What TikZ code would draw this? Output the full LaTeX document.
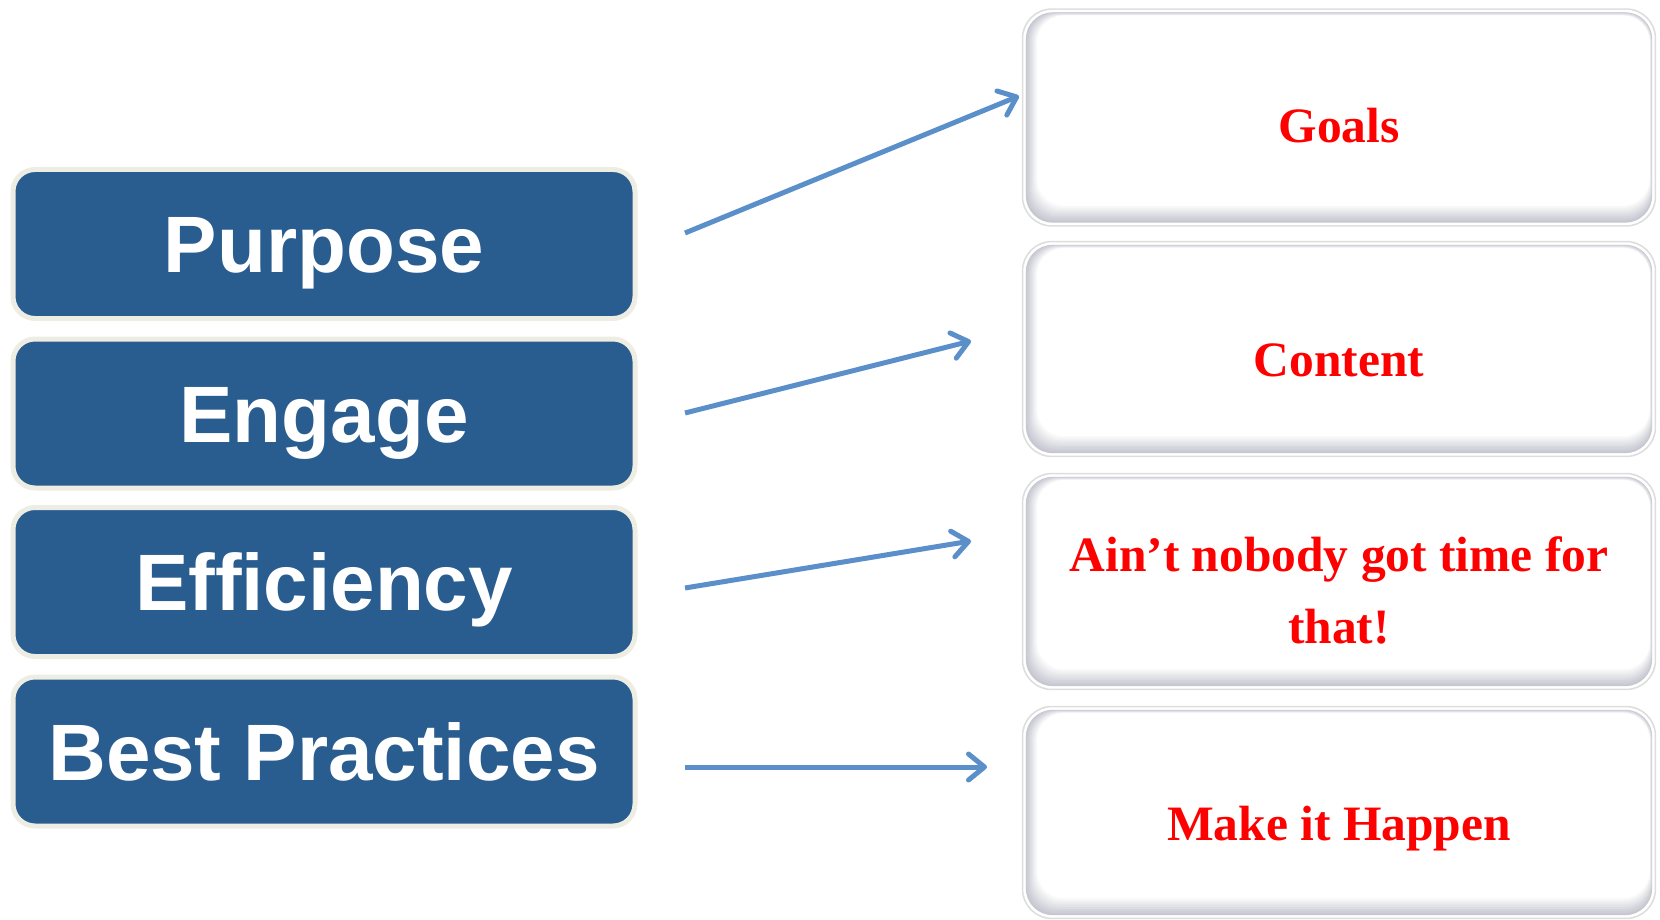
\documentclass[tikz,border=0pt]{standalone}
\usepackage{fontspec}
\setmainfont{Liberation Serif}
\newfontfamily\arialfont{Liberation Sans}
\usetikzlibrary{arrows.meta,calc}
\definecolor{boxblue}{HTML}{2A5D8F}
\definecolor{boxrim}{HTML}{EEEDE3}
\definecolor{arrowblue}{HTML}{5B8FCA}
\definecolor{rshade}{HTML}{C6C7D0}
\definecolor{rrim}{HTML}{DDDDDD}
\definecolor{txtred}{HTML}{FF0000}
\newcommand\rightbg[1]{%
  \fill[rrim, rounded corners=30pt] (#1.north west) rectangle (#1.south east);
  \fill[white, rounded corners=29pt] ([shift={(1.5,1.5)}]#1.north west) rectangle ([shift={(-1.5,-1.5)}]#1.south east);
  \foreach \k in {0,...,8}{%
    \pgfmathsetmacro\pct{100-\k*100/8}
    \pgfmathsetmacro\il{4+1.4*\k}
    \pgfmathsetmacro\ib{4+2.1*\k}
    \pgfmathsetmacro\it{4+0.4*\k}
    \pgfmathsetmacro\ir{4+0.3*\k}
    \fill[rshade!\pct!white, rounded corners=27pt] ([shift={(\il,\it)}]#1.north west) rectangle ([shift={(-\ir,-\ib)}]#1.south east);
  }%
}
\begin{document}
\begin{tikzpicture}[x=1pt,y=-1pt,
  lbox/.style={draw=boxrim, line width=5pt, fill=boxblue, rounded corners=22pt,
    minimum width=622pt, minimum height=149pt, inner sep=0pt, text=white,
    text height=57pt, text depth=0pt,
    font=\arialfont\bfseries\fontsize{80}{96}\selectfont},
  rbox/.style={minimum width=634pt, inner sep=0pt},
  rtext/.style={text=txtred, font=\bfseries\fontsize{49.5}{72}\selectfont, align=center},
  conn/.style={draw=arrowblue, line width=5pt,
    -{Straight Barb[length=16pt,width=26pt,line cap=round,round]}}]
\useasboundingbox (0,0) rectangle (1660,920);

% left boxes
\node[lbox] (p) at (324,244) {Purpose};
\node[lbox] (e) at (324,413.5) {Engage};
\node[lbox] (f) at (324,582) {Efficiency};
\node[lbox] (b) at (324,751.5) {Best Practices};

% right boxes
\node[rbox, minimum height=218pt] (g) at (1339,117.5) {};
\node[rbox, minimum height=216pt] (c) at (1339,349) {};
\node[rbox, minimum height=217pt] (n) at (1339,581.5) {};
\node[rbox, minimum height=213pt] (m) at (1339,812.5) {};
\rightbg{g}
\rightbg{c}
\rightbg{n}
\rightbg{m}

\node[rtext, anchor=base] (gt) at (1339,143) {Goals};
\node[rtext, anchor=base] (ct) at (1339,376) {Content};
\node[rtext] (nt) at (1339,590) {Ain’t nobody got time for\\that!};
\node[rtext, anchor=base] (mt) at (1339,840) {Make it Happen};

% connectors
\coordinate (s1) at (685,233);
\coordinate (t1) at (1019,96);
\coordinate (s2) at (685,413);
\coordinate (t2) at (971,341);
\coordinate (s3) at (685,588);
\coordinate (t3) at (971,541);
\coordinate (s4) at (685,767);
\coordinate (t4) at (987,767);
\draw[conn] (s1) -- (t1);
\draw[conn] (s2) -- (t2);
\draw[conn] (s3) -- (t3);
\draw[conn] (s4) -- (t4);
\end{tikzpicture}
\end{document}
